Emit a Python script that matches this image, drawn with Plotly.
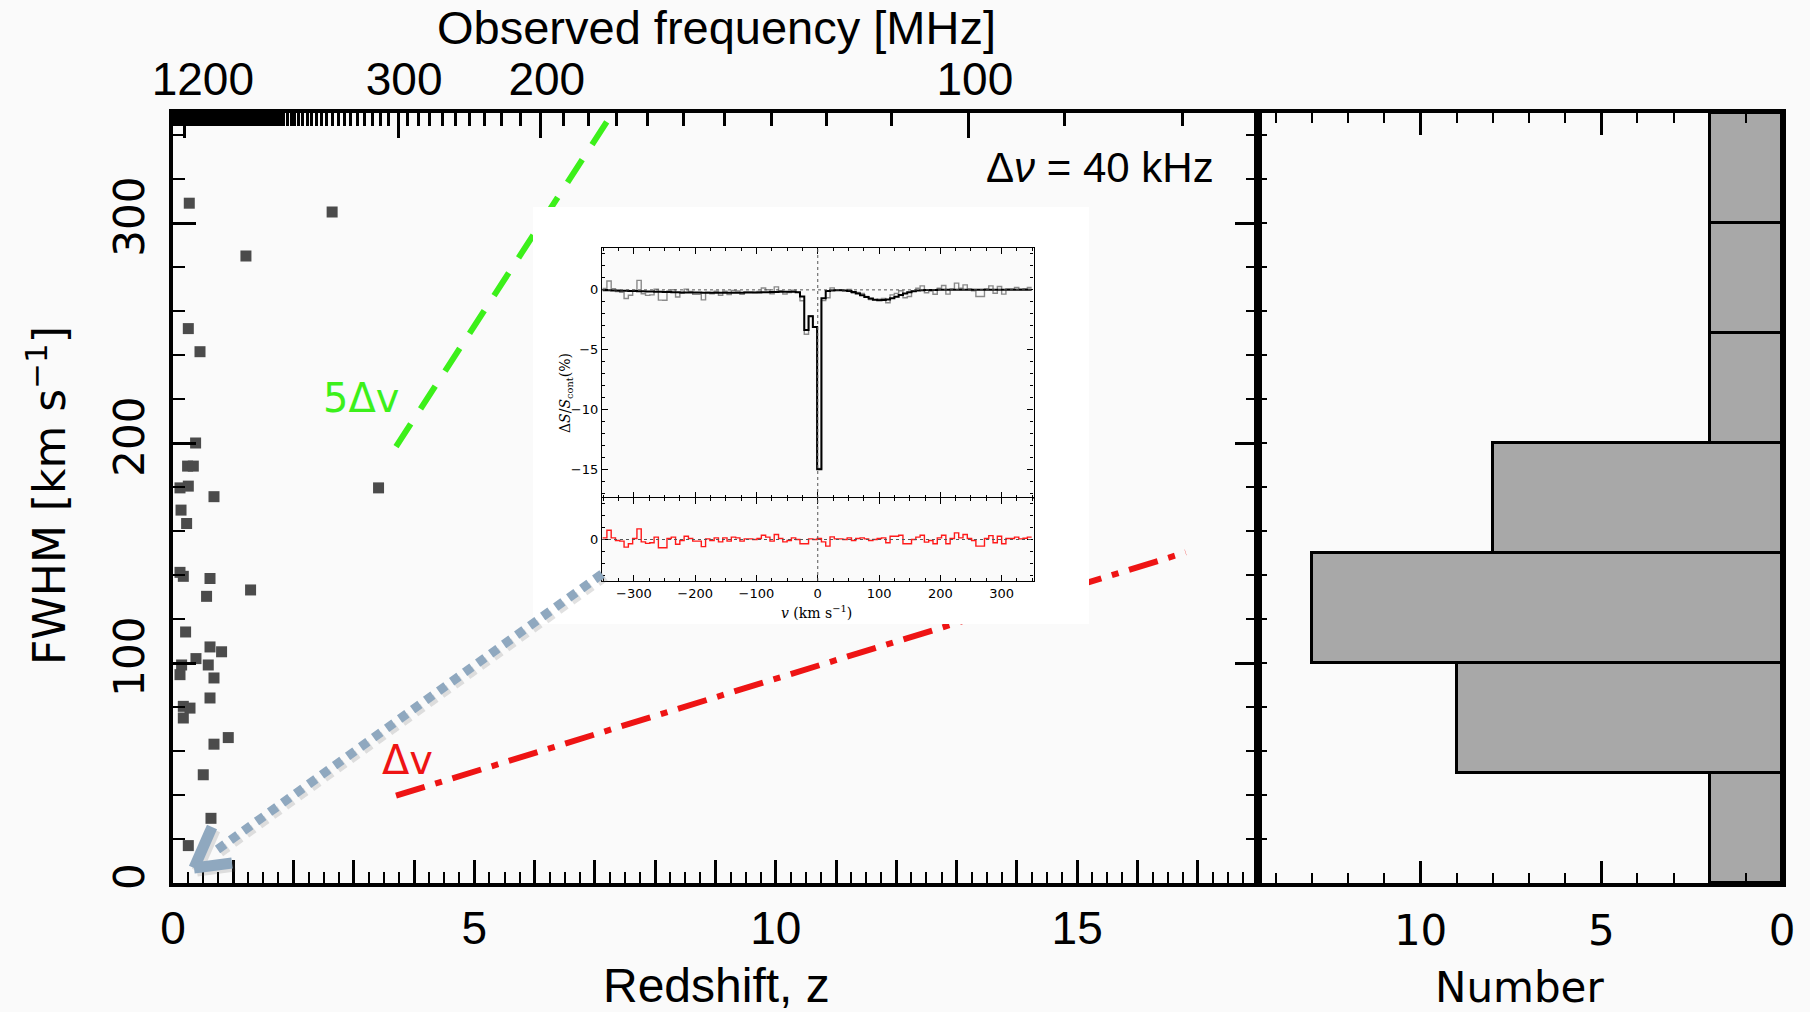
import numpy as np
import plotly.graph_objects as go

W, H = 1810, 1012

# ---------------- data ----------------
redshift = [0.27, 2.64, 1.21, 0.254, 0.448, 0.375, 0.242, 0.337, 0.116, 0.254, 0.68, 0.133,
            0.226, 3.41, 0.116, 0.171, 0.614, 1.287, 0.557, 0.209, 0.614, 0.806, 0.381, 0.143,
            0.116, 0.585, 0.68, 0.614, 0.171, 0.282, 0.171, 0.917, 0.68, 0.502, 0.63, 0.254]
fwhm = [309, 305, 285, 252, 241.5, 200, 189.5, 189.5, 179.6, 180.4, 175.6, 169.5,
        163.4, 179.6, 141.2, 139.4, 138.4, 133.2, 130.3, 114.1, 107.3, 105.1, 102, 99.1,
        94.7, 99.1, 93.2, 84.1, 80.3, 79.5, 75, 66.1, 63.1, 49.2, 29.4, 17]

hist_bin_centres = [25, 75, 125, 175, 225, 275, 325]
hist_counts = [2, 9, 13, 8, 2, 2, 2]

channel_width_khz = 40.0
nu_rest_mhz = 1420.40575
c_kms = 299792.458
line_z_start = 3.7
red_line_z_end = 16.8
green_line_z_end = 9.0

freq_major_mhz = [1400, 1300, 1200, 1100, 1000, 900, 800, 700, 600, 500, 400, 300, 200, 100]
freq_labelled_mhz = [1200, 300, 200, 100]
freq_minor_mhz = list(range(1410, 79, -10))

# inset spectrum (channel edges in km/s, 7 km/s channels)
vel_edges = list(range(-351, 350, 7))
model_pct = [-0.03, -0.04, -0.05, -0.06, -0.07, -0.08, -0.09, -0.10,
             -0.11, -0.12, -0.13, -0.14, -0.15, -0.16, -0.17, -0.18,
             -0.19, -0.20, -0.21, -0.22, -0.22, -0.23, -0.23, -0.24,
             -0.24, -0.24, -0.25, -0.25, -0.25, -0.25, -0.25, -0.24,
             -0.24, -0.23, -0.23, -0.22, -0.21, -0.20, -0.19, -0.18,
             -0.17, -0.16, -0.15, -0.15, -0.16, -0.20, -0.55, -3.35, -2.20, -3.10,
             -15.0, -0.70, -0.10, -0.05, -0.04, -0.04, -0.06, -0.10, -0.18, -0.30,
             -0.45, -0.60, -0.73, -0.82, -0.86, -0.85, -0.80, -0.70, -0.57, -0.43,
             -0.30, -0.19, -0.11, -0.06, -0.03, -0.02, -0.01, -0.01, 0.0, 0.0,
             0.0, 0.0, 0.0, 0.0, 0.0, 0.0, 0.0, 0.0, 0.0, 0.0,
             0.0, 0.0, 0.0, 0.0, 0.0, 0.0, 0.0, 0.0, 0.0, 0.0]
resid_pct = [0.14, 0.78, 0.14, -0.08, -0.14, -0.64, -0.36, 0.08, 0.9, -0.2,
             -0.33, -0.28, 0.2, -0.7, -0.7, 0.08, 0.2, -0.4, -0.08, 0.28,
             0.08, -0.14, -0.14, -0.6, 0.05, -0.08, 0.14, -0.2, 0.14, -0.14,
             0.2, 0.14, -0.14, 0.05, 0.05, 0.0, 0.08, 0.36, 0.2, -0.14,
             0.42, 0.08, -0.2, -0.08, 0.14, 0.0, -0.36, -0.36, 0.05, 0.0,
             0.08, -0.2, -0.56, 0.22, 0.05, 0.05, 0.0, 0.14, -0.08, 0.08,
             0.14, 0.05, -0.08, 0.0, 0.08, 0.14, -0.28, 0.28, 0.28, 0.36,
             -0.36, -0.36, 0.0, 0.2, 0.36, -0.22, -0.08, -0.36, 0.14, 0.36,
             -0.36, 0.08, 0.56, 0.14, 0.42, 0.08, -0.08, -0.56, -0.56, 0.08,
             0.33, -0.28, 0.28, -0.36, 0.08, 0.08, 0.2, 0.05, 0.1, 0.2]
data_pct = [m + r for m, r in zip(model_pct, resid_pct)]

# ---------------- helpers ----------------
def fx(px):
    return px / W

def fy(py):
    return 1 - py / H

def chan_dv(z):
    z = np.asarray(z, dtype=float)
    return c_kms * (channel_width_khz / 1000.0) / nu_rest_mhz * (1 + z)

def z_of_freq(f):
    return [nu_rest_mhz / v - 1 for v in f]

SANS = "Liberation Sans, Arial, Helvetica, sans-serif"
WIDE = "DejaVu Sans, Verdana, sans-serif"
BG = "#fafafa"
NBSP = "\u00a0"

fig = go.Figure()

# main scatter
fig.add_trace(go.Scatter(x=redshift, y=fwhm, mode="markers", xaxis="x", yaxis="y",
                         marker=dict(symbol="square", size=11, color="#4b4b4b", line=dict(width=0)),
                         showlegend=False, hoverinfo="skip"))
# 5 dv and dv lines
z_green = np.array([line_z_start, green_line_z_end])
z_red = np.array([line_z_start, red_line_z_end])
fig.add_trace(go.Scatter(x=z_green, y=5 * chan_dv(z_green), mode="lines", xaxis="x", yaxis="y",
                         line=dict(color="#3cf01a", width=6, dash="27px,18px"),
                         showlegend=False, hoverinfo="skip"))
fig.add_trace(go.Scatter(x=z_red, y=chan_dv(z_red), mode="lines", xaxis="x", yaxis="y",
                         line=dict(color="#ee1414", width=6, dash="30px,11px,7px,11px"),
                         showlegend=False, hoverinfo="skip"))
# dummy for top frequency axis
fig.add_trace(go.Scatter(x=[1], y=[1], mode="markers", xaxis="x2", yaxis="y",
                         marker=dict(opacity=0), showlegend=False, hoverinfo="skip"))
# histogram
fig.add_trace(go.Bar(y=hist_bin_centres, x=hist_counts, orientation="h", width=50,
                     xaxis="x3", yaxis="y3",
                     marker=dict(color="#a8a8a8", line=dict(color="black", width=3)),
                     showlegend=False, hoverinfo="skip"))
# white inset box (own subplot so it covers main traces)
fig.add_trace(go.Scatter(x=[0, 1, 1, 0, 0], y=[0, 0, 1, 1, 0], fill="toself", fillcolor="white",
                         mode="lines", line=dict(width=0), xaxis="x4", yaxis="y4",
                         showlegend=False, hoverinfo="skip"))
# inset spectrum
fig.add_trace(go.Scatter(x=vel_edges, y=data_pct + [data_pct[-1]], mode="lines", line_shape="hv",
                         line=dict(color="#8a8a8a", width=1.4), xaxis="x5", yaxis="y5",
                         showlegend=False, hoverinfo="skip"))
fig.add_trace(go.Scatter(x=vel_edges, y=model_pct + [model_pct[-1]], mode="lines", line_shape="hv",
                         line=dict(color="black", width=2), xaxis="x5", yaxis="y5",
                         showlegend=False, hoverinfo="skip"))
fig.add_trace(go.Scatter(x=vel_edges, y=resid_pct + [resid_pct[-1]], mode="lines", line_shape="hv",
                         line=dict(color="#ff1a1a", width=1.4), xaxis="x6", yaxis="y6",
                         showlegend=False, hoverinfo="skip"))

axis_common = dict(showgrid=False, zeroline=False, showline=True, linecolor="black", automargin=False)

main_x_dom = [fx(173), fx(1258)]
main_y_dom = [fy(883), fy(113)]
hist_x_dom = [fx(1258), fx(1782)]

top_major_z = z_of_freq(freq_major_mhz)
top_text = []
for f in freq_major_mhz:
    if f == 1200:
        top_text.append(NBSP * 2 + str(f))
    elif f in freq_labelled_mhz:
        top_text.append(str(f))
    else:
        top_text.append("")

inset_x_dom = [fx(602), fx(1033.5)]
inset_tick_font = dict(family="DejaVu Sans", size=13, color="black")

fig.update_layout(
    template="none",
    width=W, height=H, autosize=False,
    margin=dict(l=0, r=0, t=0, b=0, pad=0),
    paper_bgcolor=BG, plot_bgcolor=BG,
    showlegend=False,
    bargap=0,
    xaxis=dict(**axis_common, domain=main_x_dom, anchor="y", range=[0, 18], linewidth=4,
               ticks="inside", tickmode="array", tickvals=list(range(0, 19)),
               ticktext=[str(v) if v % 5 == 0 else "" for v in range(0, 19)],
               ticklen=23, tickwidth=3, tickcolor="black",
               minor=dict(tickmode="linear", tick0=0, dtick=0.25, ticks="inside", ticklen=11,
                          tickwidth=2, tickcolor="black"),
               tickfont=dict(family=SANS, size=46, color="black"), ticklabelstandoff=2),
    xaxis2=dict(**axis_common, overlaying="x", side="top", anchor="y", range=[0, 18], linewidth=4,
                ticks="inside", tickmode="array", tickvals=top_major_z, ticktext=top_text,
                ticklen=25, tickwidth=3, tickcolor="black",
                minor=dict(tickmode="array", tickvals=z_of_freq(freq_minor_mhz), ticks="inside",
                           ticklen=13, tickwidth=3, tickcolor="black"),
                tickfont=dict(family=SANS, size=46, color="black"), ticklabelshift=6,
                ticklabelstandoff=-4),
    yaxis=dict(**axis_common, domain=main_y_dom, anchor="x", range=[0, 350], linewidth=4,
               ticks="inside", tickmode="array", tickvals=[0, 100, 200, 300],
               ticklen=23, tickwidth=3, tickcolor="black", mirror="ticks",
               minor=dict(tickmode="linear", tick0=0, dtick=20, ticks="inside", ticklen=12,
                          tickwidth=2, tickcolor="black"),
               tickangle=-90, tickfont=dict(family=WIDE, size=42, color="black"),
               ticklabelstandoff=8),
    xaxis3=dict(**axis_common, domain=hist_x_dom, anchor="y3", range=[14.5, 0], linewidth=4,
                ticks="inside", tickmode="array", tickvals=[0, 5, 10], mirror="ticks",
                ticklen=22, tickwidth=3, tickcolor="black",
                minor=dict(tickmode="linear", tick0=0, dtick=1, ticks="inside", ticklen=10,
                           tickwidth=2, tickcolor="black"),
                tickfont=dict(family=WIDE, size=42, color="black"), ticklabelstandoff=8),
    yaxis3=dict(**axis_common, domain=main_y_dom, anchor="x3", range=[0, 350], linewidth=4,
                ticks="inside", tickmode="linear", tick0=0, dtick=20, ticklen=9, tickwidth=2,
                tickcolor="black", showticklabels=False, mirror=True),
    xaxis4=dict(domain=[fx(533), fx(1089)], anchor="y4", range=[0, 1], visible=False),
    yaxis4=dict(domain=[fy(624), fy(207)], anchor="x4", range=[0, 1], visible=False),
    xaxis5=dict(**axis_common, domain=inset_x_dom, anchor="y5", range=[-352, 352], linewidth=1.2,
                ticks="inside", tickmode="linear", tick0=0, dtick=100, ticklen=6, tickwidth=1,
                tickcolor="black", mirror="ticks", showticklabels=False,
                minor=dict(tickmode="linear", tick0=0, dtick=25, ticks="inside", ticklen=3,
                           tickwidth=1, tickcolor="black")),
    yaxis5=dict(**axis_common, domain=[fy(498), fy(248)], anchor="x5", range=[-17.4, 3.5],
                linewidth=1.2, ticks="inside", tickmode="array", tickvals=[-15, -10, -5, 0],
                ticklen=6, tickwidth=1, tickcolor="black", mirror="ticks",
                minor=dict(tickmode="linear", tick0=0, dtick=1, ticks="inside", ticklen=3,
                           tickwidth=1, tickcolor="black"),
                tickfont=inset_tick_font),
    xaxis6=dict(**axis_common, domain=inset_x_dom, anchor="y6", range=[-352, 352], linewidth=1.2,
                ticks="inside", tickmode="array", tickvals=[-300, -200, -100, 0, 100, 200, 300],
                ticklen=6, tickwidth=1, tickcolor="black", mirror="ticks",
                minor=dict(tickmode="linear", tick0=0, dtick=25, ticks="inside", ticklen=3,
                           tickwidth=1, tickcolor="black"),
                tickfont=inset_tick_font),
    yaxis6=dict(**axis_common, domain=[fy(581), fy(498)], anchor="x6", range=[-3.5, 3.5],
                linewidth=1.2, ticks="inside", tickmode="array", tickvals=[0],
                ticklen=6, tickwidth=1, tickcolor="black", mirror="ticks",
                minor=dict(tickmode="linear", tick0=0, dtick=1, ticks="inside", ticklen=3,
                           tickwidth=1, tickcolor="black"),
                tickfont=inset_tick_font),
)

# dotted reference lines in inset
dot_line = dict(color="#555555", width=1, dash="dot")
fig.add_shape(type="line", xref="x5 domain", yref="y5", x0=0, x1=1, y0=0, y1=0, line=dot_line, layer="above")
fig.add_shape(type="line", xref="x6 domain", yref="y6", x0=0, x1=1, y0=0, y1=0, line=dot_line, layer="above")
fig.add_shape(type="line", xref="x5", yref="y5 domain", x0=0, x1=0, y0=0, y1=1, line=dot_line, layer="above")
fig.add_shape(type="line", xref="x6", yref="y6 domain", x0=0, x1=0, y0=0, y1=1, line=dot_line, layer="above")

# dotted arrow from the inset to the low-z points (with a soft shadow)
arrow_col = "#8fa8bf"
shadow_col = "rgba(90,90,90,0.18)"
tip = (194, 868)
arm1 = (212, 827)
arm2 = (232, 863)
for dx, col in ((3, shadow_col), (0, arrow_col)):
    fig.add_shape(type="line", xref="paper", yref="paper",
                  x0=fx(602 + dx), y0=fy(574 + dx), x1=fx(214 + dx), y1=fy(852 + dx),
                  line=dict(color=col, width=9, dash="9px,7px"), layer="above")
    for arm in (arm1, arm2):
        fig.add_shape(type="line", xref="paper", yref="paper",
                      x0=fx(tip[0] + dx), y0=fy(tip[1] + dx), x1=fx(arm[0] + dx), y1=fy(arm[1] + dx),
                      line=dict(color=col, width=11), layer="above")

annotations = [
    dict(x=fx(716), y=fy(28), text="Observed frequency [MHz]",
         font=dict(family=SANS, size=47, color="black")),
    dict(x=fx(716), y=fy(985), text="Redshift, z",
         font=dict(family=SANS, size=48, color="black")),
    dict(x=fx(1519), y=fy(987), text="Number",
         font=dict(family=WIDE, size=42, color="black")),
    dict(x=fx(46), y=fy(496), text="FWHM [km s<sup>−1</sup>]", textangle=-90,
         font=dict(family=WIDE, size=44, color="black")),
    dict(x=fx(1100), y=fy(167), text="Δ<i>ν</i> = 40 kHz",
         font=dict(family=SANS, size=42, color="black")),
    dict(x=fx(361), y=fy(398), text="5Δv",
         font=dict(family=WIDE, size=40, color="#3cf01a")),
    dict(x=fx(407), y=fy(760), text="Δv",
         font=dict(family=WIDE, size=40, color="#ee1414")),
    dict(x=fx(566), y=fy(393), text="Δ<i>S</i>/<i>S</i><sub>cont</sub>(%)", textangle=-90,
         font=dict(family="DejaVu Serif", size=14, color="black")),
    dict(x=fx(816), y=fy(612), text="<i>v</i> (km s<sup>−1</sup>)",
         font=dict(family="DejaVu Serif", size=14, color="black")),
]
for a in annotations:
    a.setdefault("xref", "paper")
    a.setdefault("yref", "paper")
    a.setdefault("showarrow", False)
    a.setdefault("xanchor", "center")
    a.setdefault("yanchor", "middle")
    fig.add_annotation(**a)

fig.write_html("out.html")
